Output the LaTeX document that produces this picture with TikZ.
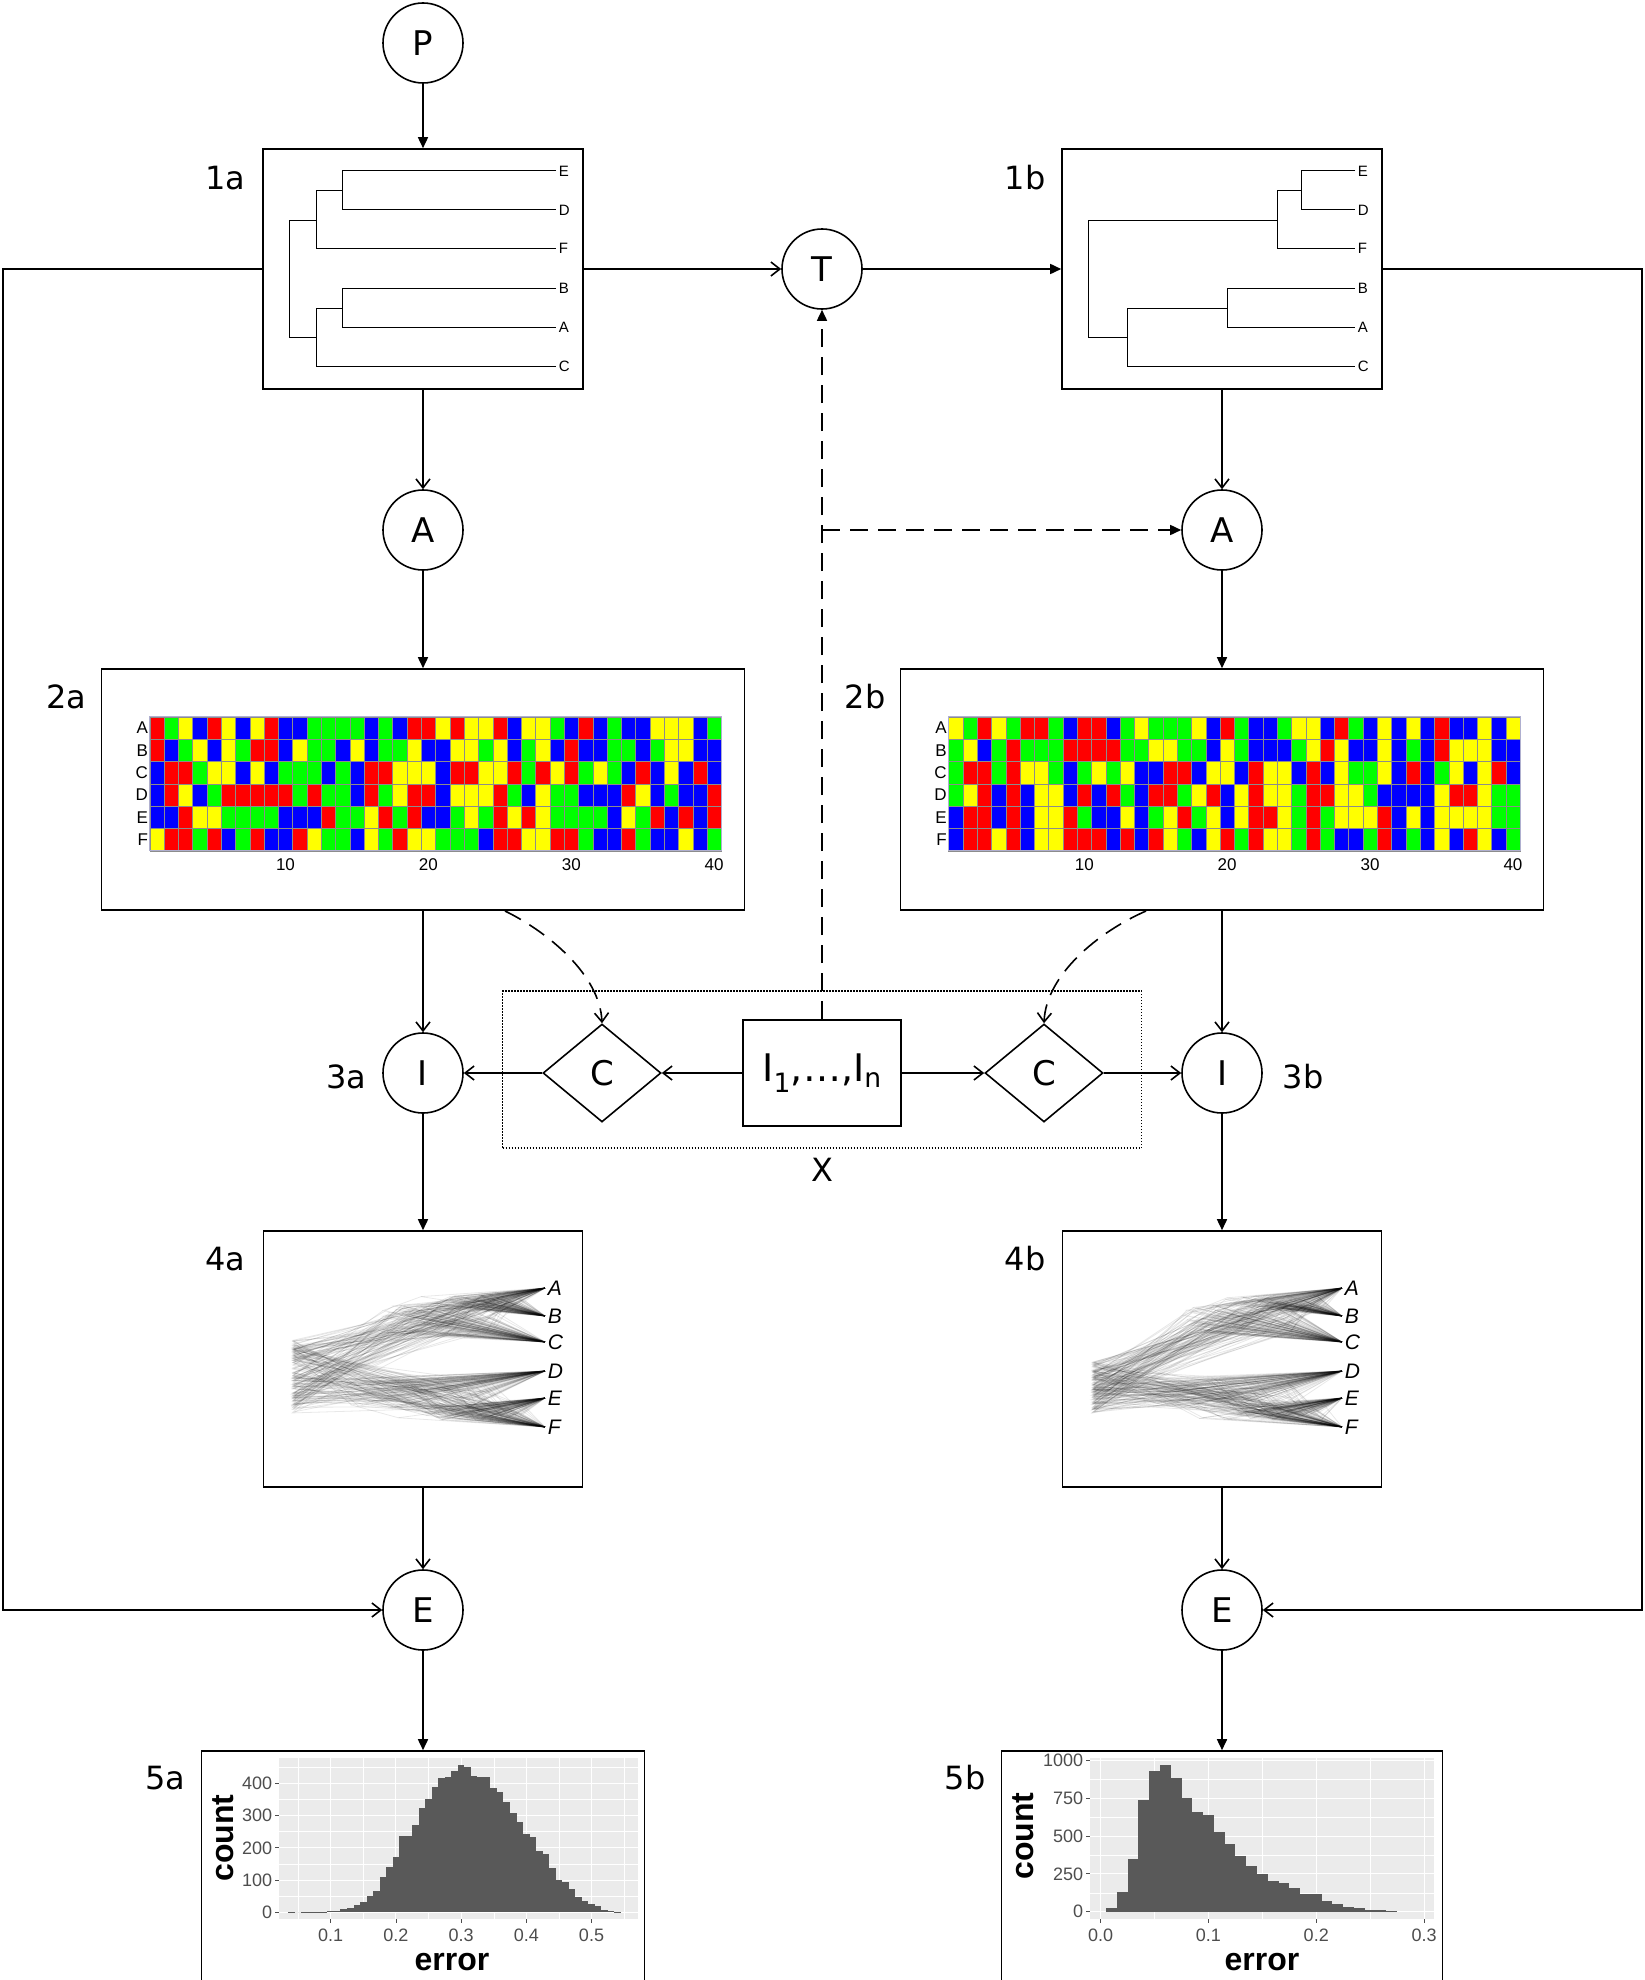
\documentclass[tikz,border=0pt]{standalone}
\usepackage{fontspec}
\setmainfont{DejaVu Sans}
\newfontfamily\plotfont{Liberation Sans}
\usetikzlibrary{arrows.meta,shapes.geometric}

\definecolor{alR}{RGB}{255,0,0}
\definecolor{alG}{RGB}{0,255,0}
\definecolor{alY}{RGB}{255,255,0}
\definecolor{alB}{RGB}{0,0,255}
\definecolor{ggpanel}{RGB}{235,235,235}
\definecolor{ggbar}{RGB}{89,89,89}
\definecolor{ggtext}{RGB}{77,77,77}

% alignment block: left x, top y, rows of bases
\newcommand{\alnblock}[3]{
  \foreach \seq [count=\ri] in {#3} {
    \foreach \cc [count=\ci] in \seq {
      \filldraw[fill=al\cc, draw=black!45, line width=0.3pt]
        ({#1+(\ci-1)*14.29},{#2+(\ri-1)*22.33}) rectangle ++(14.29,22.33);
    }
  }
  \draw[blue!25!gray!50, line width=0.8pt] (#1,#2) rectangle ++(571.6,134);
  \foreach \n [count=\ri] in {A,B,C,D,E,F}
    \node[seqlab, anchor=east] at ({#1},{#2+(\ri-0.5)*22.33}) {\n};
  \foreach \n in {10,20,30,40}
    \node[seqlab] at ({#1+(\n-0.5)*14.29},{#2+148}) {\n};
}

% cloud of trees: root x, band top, band height, tip x
\newcommand{\densitree}[4]{
  \foreach \k in {1,...,110} {
    \pgfmathsetmacro{\ry}{#2+#3*rnd}
    \pgfmathsetmacro{\ux}{#1+(#4-#1)*(0.35+0.45*rnd)}
    \pgfmathsetmacro{\uy}{1305+30*rnd}
    \pgfmathsetmacro{\wx}{\ux+(#4-\ux)*(0.2+0.5*rnd)}
    \pgfmathsetmacro{\wy}{1295+14*rnd}
    \pgfmathsetmacro{\vx}{#1+(#4-#1)*(0.2+0.6*rnd)}
    \pgfmathsetmacro{\vy}{1378+30*rnd}
    \pgfmathsetmacro{\zx}{\vx+(#4-\vx)*(0.2+0.5*rnd)}
    \pgfmathsetmacro{\zy}{1405+15*rnd}
    \draw[fan] (\ux,\uy) -- (#1,\ry) -- (\vx,\vy);
    \draw[fan] (#4,1342) -- (\ux,\uy) -- (\wx,\wy) -- (#4,1288);
    \draw[fan] (\wx,\wy) -- (#4,1316);
    \draw[fan] (#4,1371) -- (\vx,\vy) -- (\zx,\zy) -- (#4,1398);
    \draw[fan] (\zx,\zy) -- (#4,1427);
  }
  \foreach \n/\y in {A/1288,B/1316,C/1342,D/1371,E/1398,F/1427}
    \node[fanlab] at ({#4+1},\y) {\n};
}

\begin{document}
\begin{tikzpicture}[x=1pt,y=-1pt,
    line width=1.6pt,
    op/.style={circle, draw, line width=1.6pt, minimum size=80pt,
      inner sep=0pt, font=\fontsize{34}{40}\selectfont},
    panel/.style={rectangle, draw, line width=1.6pt, inner sep=0pt},
    choice/.style={diamond, draw, line width=1.6pt, minimum width=118pt,
      minimum height=98pt, inner sep=0pt, font=\fontsize{34}{40}\selectfont},
    steplab/.style={font=\fontsize{32}{38}\selectfont},
    tiplab/.style={anchor=west, inner sep=1pt, font=\plotfont\fontsize{15}{18}\selectfont},
    seqlab/.style={inner sep=1pt, font=\plotfont\fontsize{17}{20}\selectfont},
    fanlab/.style={anchor=west, inner sep=1pt, font=\plotfont\itshape\fontsize{21}{24}\selectfont},
    ticklab/.style={text=ggtext, inner sep=1pt, font=\plotfont\fontsize{18}{21}\selectfont},
    axlab/.style={inner sep=0pt, font=\plotfont\bfseries\fontsize{32}{36}\selectfont},
    branch/.style={line width=1pt},
    fan/.style={black, opacity=0.09, line width=0.8pt},
    openarr/.style={-{Straight Barb[length=9pt,width=14pt]}},
    fillarr/.style={-{Triangle[length=11pt,width=10pt]}},
    dashline/.style={dash pattern=on 18pt off 10pt},
    gridmaj/.style={white, line width=0.9pt},
    gridmin/.style={white, line width=0.4pt},
  ]
  \useasboundingbox (0,0) rectangle (1645,1980);
  \pgfmathsetseed{7}

  % operations and panels
  \node[op] (P) at (423,43) {P};
  \node[panel, minimum width=320pt, minimum height=240pt] (tr1) at (423,269) {};
  \node[panel, minimum width=320pt, minimum height=240pt] (tr2) at (1222,269) {};
  \node[op] (T) at (822,269) {T};
  \node[op] (A1) at (423,530) {A};
  \node[op] (A2) at (1222,530) {A};
  \node[panel, minimum width=643pt, minimum height=241pt] (al1) at (423,789.5) {};
  \node[panel, minimum width=643pt, minimum height=241pt] (al2) at (1222,789.5) {};
  \node[op] (I1) at (423,1073) {I};
  \node[op] (I2) at (1222,1073) {I};
  \node[choice] (C1) at (602,1073) {C};
  \node[choice] (C2) at (1044,1073) {C};
  \node[panel, minimum width=158pt, minimum height=106pt,
    font=\fontsize{38}{44}\selectfont] (In) at (822,1073) {I\textsubscript{1},…,I\textsubscript{n}};
  \node[draw, line width=1.2pt, dash pattern=on 1.5pt off 1.5pt, minimum width=639pt,
    minimum height=157pt, inner sep=0pt] (X) at (822,1069.5) {};
  \node[steplab] (Xl) at (822,1170) {X};
  \node[panel, minimum width=319pt, minimum height=256pt] (dt1) at (423,1359) {};
  \node[panel, minimum width=319pt, minimum height=256pt] (dt2) at (1222,1359) {};
  \node[op] (E1) at (423,1610) {E};
  \node[op] (E2) at (1222,1610) {E};
  \node[panel, minimum width=443pt, minimum height=240pt] (h1) at (423,1871) {};
  \node[panel, minimum width=441pt, minimum height=240pt] (h2) at (1222,1871) {};

  % step labels
  \node[steplab] (s1a) at (225,178) {1a};
  \node[steplab] (s1b) at (1025,178) {1b};
  \node[steplab] (s2a) at (66,697) {2a};
  \node[steplab] (s2b) at (865,697) {2b};
  \node[steplab] (s3a) at (346,1077) {3a};
  \node[steplab] (s3b) at (1303,1077) {3b};
  \node[steplab] (s4a) at (225,1259) {4a};
  \node[steplab] (s4b) at (1025,1259) {4b};
  \node[steplab] (s5a) at (165,1778) {5a};
  \node[steplab] (s5b) at (965,1778) {5b};

  % connectors
  \coordinate (lo1) at (3,269);
  \coordinate (lo2) at (3,1610);
  \coordinate (ro1) at (1642,269);
  \coordinate (ro2) at (1642,1610);
  \coordinate (dj) at (822,530);
  \coordinate (cu1) at (505,911);
  \coordinate (cu2) at (1146,911);
  \draw[fillarr] (P) -- (tr1);
  \draw[openarr] (tr1.west) -- (lo1) -- (lo2) -- (E1);
  \draw[openarr] (tr2.east) -- (ro1) -- (ro2) -- (E2);
  \draw[openarr] (tr1) -- (T);
  \draw[fillarr] (T) -- (tr2);
  \draw[openarr] (tr1) -- (A1);
  \draw[openarr] (tr2) -- (A2);
  \draw[fillarr] (A1) -- (al1);
  \draw[fillarr] (A2) -- (al2);
  \draw[openarr] (al1) -- (I1);
  \draw[openarr] (al2) -- (I2);
  \draw[fillarr] (I1) -- (dt1);
  \draw[fillarr] (I2) -- (dt2);
  \draw[openarr] (dt1) -- (E1);
  \draw[openarr] (dt2) -- (E2);
  \draw[fillarr] (E1) -- (h1);
  \draw[fillarr] (E2) -- (h2);
  \draw[openarr] (In) -- (C1);
  \draw[openarr] (C1) -- (I1);
  \draw[openarr] (In) -- (C2);
  \draw[openarr] (C2) -- (I2);
  \draw[dashline, fillarr] (In) -- (T);
  \draw[dashline, fillarr] (dj) -- (A2);
  \draw[dashline, openarr] (cu1) .. controls (548,932) and (600,975) .. (C1.north);
  \draw[dashline, openarr] (cu2) .. controls (1098,932) and (1046,975) .. (C2.north);

  % tree 1a
  \draw[branch] (289,220) -- (289,337);
  \draw[branch] (342,191) -- (316,191) -- (316,248) -- (556,248);
  \draw[branch] (289,220) -- (316,220);
  \draw[branch] (289,337) -- (316,337);
  \draw[branch] (342,308) -- (316,308) -- (316,366) -- (556,366);
  \draw[branch] (556,171) -- (342,171) -- (342,210) -- (556,210);
  \draw[branch] (556,288) -- (342,288) -- (342,327) -- (556,327);
  \foreach \n/\y in {E/171,D/210,F/248,B/288,A/327,C/366}
    \node[tiplab] at (557,\y) {\n};

  % tree 1b
  \draw[branch] (1277,220) -- (1088,220) -- (1088,337) -- (1127,337);
  \draw[branch] (1301,191) -- (1277,191) -- (1277,248) -- (1355,248);
  \draw[branch] (1227,308) -- (1127,308) -- (1127,366) -- (1355,366);
  \draw[branch] (1355,171) -- (1301,171) -- (1301,210) -- (1355,210);
  \draw[branch] (1355,288) -- (1227,288) -- (1227,327) -- (1355,327);
  \foreach \n/\y in {E/171,D/210,F/248,B/288,A/327,C/366}
    \node[tiplab] at (1356,\y) {\n};

  % alignments
  \alnblock{149.7}{716.7}{
    {R,G,Y,B,R,Y,B,Y,R,B,B,G,G,G,G,B,G,B,R,R,Y,R,Y,Y,R,B,Y,Y,G,B,R,B,G,B,B,Y,Y,Y,B,G},
    {R,B,G,Y,B,Y,G,R,R,B,Y,G,G,B,Y,B,G,G,Y,B,B,Y,Y,G,Y,B,G,Y,B,R,B,B,G,G,B,G,Y,Y,B,B},
    {B,R,R,G,Y,Y,B,Y,B,G,G,G,B,G,B,R,R,Y,Y,Y,B,R,R,Y,Y,R,G,R,Y,R,G,Y,G,B,R,B,Y,B,R,B},
    {B,R,Y,B,G,R,R,R,R,R,G,R,G,G,B,R,G,Y,R,R,B,Y,Y,Y,R,G,B,Y,G,G,B,B,B,R,Y,B,G,B,B,R},
    {B,B,R,Y,Y,G,G,G,G,B,B,B,R,G,G,Y,R,G,R,B,B,G,Y,G,R,Y,R,Y,G,G,G,G,B,Y,G,R,B,R,B,R},
    {Y,R,R,G,R,B,G,R,B,B,R,Y,G,G,B,Y,G,R,Y,Y,G,G,G,B,R,R,Y,Y,R,R,G,B,B,R,G,B,B,Y,B,G}}
  \alnblock{948.5}{716.7}{
    {Y,G,R,Y,G,R,R,G,B,R,R,B,G,Y,G,G,G,Y,B,R,G,B,B,G,Y,Y,B,R,G,B,Y,B,Y,B,R,B,B,Y,B,Y},
    {G,Y,B,G,R,G,G,G,R,R,R,R,G,G,Y,Y,G,G,B,Y,G,B,B,B,G,Y,R,Y,B,B,Y,B,G,B,R,Y,Y,Y,B,B},
    {G,R,R,G,R,Y,Y,G,B,G,Y,G,Y,B,B,R,R,B,Y,Y,B,R,Y,Y,B,R,B,Y,G,G,Y,B,R,B,G,Y,B,Y,R,B},
    {G,Y,R,B,R,B,Y,Y,B,R,B,R,G,B,R,R,G,Y,R,B,Y,R,Y,Y,G,R,R,Y,Y,G,B,B,B,B,Y,R,R,Y,G,G},
    {B,R,R,B,R,B,Y,Y,R,G,B,B,Y,B,G,Y,R,G,Y,B,Y,R,R,Y,G,R,G,Y,Y,Y,R,B,Y,B,Y,Y,Y,Y,G,G},
    {B,R,R,Y,R,B,Y,Y,R,R,R,B,R,B,R,Y,G,B,Y,R,G,R,Y,Y,G,R,G,B,B,G,R,B,G,B,Y,B,R,Y,B,G}}

  % tree clouds
  \densitree{293}{1340}{73}{545}
  \densitree{1093}{1362}{51}{1342}

  % histogram 5a
  \fill[ggpanel] (279,1758) rectangle (638,1919);
  \foreach \v in {5,15,...,55}
    \draw[gridmin] ({265.5+6.52*\v},1758) -- ({265.5+6.52*\v},1919);
  \foreach \c in {50,150,...,450}
    \draw[gridmin] (279,{1912.3-0.3225*\c}) -- (638,{1912.3-0.3225*\c});
  \foreach \v in {10,20,...,50}
    \draw[gridmaj] ({265.5+6.52*\v},1758) -- ({265.5+6.52*\v},1919);
  \foreach \c in {0,100,...,400}
    \draw[gridmaj] (279,{1912.3-0.3225*\c}) -- (638,{1912.3-0.3225*\c});
  \foreach \h [count=\i] in {1,0,1,2,2,2,3,5,10,12,22,32,52,65,110,140,172,237,237,270,
      322,350,388,417,420,438,456,452,423,420,420,387,372,341,308,281,242,234,191,181,
      136,101,95,73,49,35,25,20,8,3,2}
    \fill[ggbar] ({265.5+6.52*(2.5+\i)},1912.3) rectangle ++(6.52,{-0.3225*\h});
  \foreach \c in {0,100,...,400} {
    \draw[ggtext, line width=0.8pt] (275,{1912.3-0.3225*\c}) -- (279,{1912.3-0.3225*\c});
    \node[ticklab, anchor=east] at (274,{1912.3-0.3225*\c}) {\c};
  }
  \foreach \v/\t in {10/0.1,20/0.2,30/0.3,40/0.4,50/0.5} {
    \draw[ggtext, line width=0.8pt] ({265.5+6.52*\v},1919) -- ({265.5+6.52*\v},1923);
    \node[ticklab] at ({265.5+6.52*\v},1935) {\t};
  }
  \node[axlab, rotate=90] at (223,1838) {count};
  \node[axlab] at (452,1962) {error};

  % histogram 5b
  \fill[ggpanel] (1090,1758) rectangle (1434,1919);
  \foreach \v in {5,15,25}
    \draw[gridmin] ({1100.7+10.777*\v},1758) -- ({1100.7+10.777*\v},1919);
  \foreach \c in {125,375,625,875}
    \draw[gridmin] (1090,{1911.7-0.15142*\c}) -- (1434,{1911.7-0.15142*\c});
  \foreach \v in {0,10,20,30}
    \draw[gridmaj] ({1100.7+10.777*\v},1758) -- ({1100.7+10.777*\v},1919);
  \foreach \c in {0,250,...,1000}
    \draw[gridmaj] (1090,{1911.7-0.15142*\c}) -- (1434,{1911.7-0.15142*\c});
  \foreach \h [count=\i] in {24,130,351,735,929,969,883,751,660,638,525,448,369,302,
      249,205,192,155,119,119,73,51,33,24,13,9,4}
    \fill[ggbar] ({1100.7+10.777*(\i-0.5)},1911.7) rectangle ++(10.777,{-0.15142*\h});
  \foreach \c in {0,250,...,1000} {
    \draw[ggtext, line width=0.8pt] (1086,{1911.7-0.15142*\c}) -- (1090,{1911.7-0.15142*\c});
    \node[ticklab, anchor=east] at (1085,{1911.7-0.15142*\c}) {\c};
  }
  \foreach \v/\t in {0/0.0,10/0.1,20/0.2,30/0.3} {
    \draw[ggtext, line width=0.8pt] ({1100.7+10.777*\v},1919) -- ({1100.7+10.777*\v},1923);
    \node[ticklab] at ({1100.7+10.777*\v},1935) {\t};
  }
  \node[axlab, rotate=90] at (1023,1836) {count};
  \node[axlab] at (1262,1962) {error};
\end{tikzpicture}
\end{document}
